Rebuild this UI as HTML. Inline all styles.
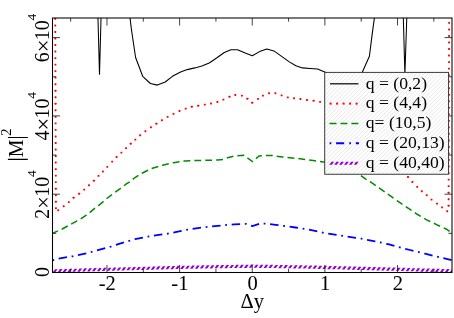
<!DOCTYPE html>
<html><head><meta charset="utf-8"><title>plot</title>
<style>
html,body{margin:0;padding:0;background:#fff;}
body{width:454px;height:318px;overflow:hidden;}
svg{display:block;will-change:transform;font-family:"Liberation Serif",serif;}
</style></head><body>
<svg width="454" height="318" viewBox="0 0 454 318">
<defs>
<clipPath id="lc"><rect x="324.7" y="72.4" width="123.85000000000002" height="101.85"/></clipPath>
<clipPath id="cp"><rect x="52.5" y="18.0" width="399.5" height="254.5"/></clipPath>
</defs>
<rect width="454" height="318" fill="#fff"/>
<g clip-path="url(#cp)" fill="none">
<path d="M47.90,272.40h2.6l2.2,-3.2h-2.6zM52.80,272.33h2.6l2.2,-3.2h-2.6zM57.70,272.21h2.6l2.2,-3.2h-2.6zM62.60,272.08h2.6l2.2,-3.2h-2.6zM67.50,271.96h2.6l2.2,-3.2h-2.6zM72.40,271.83h2.6l2.2,-3.2h-2.6zM77.30,271.71h2.6l2.2,-3.2h-2.6zM82.20,271.56h2.6l2.2,-3.2h-2.6zM87.10,271.42h2.6l2.2,-3.2h-2.6zM92.00,271.27h2.6l2.2,-3.2h-2.6zM96.90,271.13h2.6l2.2,-3.2h-2.6zM101.80,270.98h2.6l2.2,-3.2h-2.6zM106.70,270.85h2.6l2.2,-3.2h-2.6zM111.60,270.73h2.6l2.2,-3.2h-2.6zM116.50,270.60h2.6l2.2,-3.2h-2.6zM121.40,270.48h2.6l2.2,-3.2h-2.6zM126.30,270.36h2.6l2.2,-3.2h-2.6zM131.20,270.24h2.6l2.2,-3.2h-2.6zM136.10,270.10h2.6l2.2,-3.2h-2.6zM141.00,269.96h2.6l2.2,-3.2h-2.6zM145.90,269.83h2.6l2.2,-3.2h-2.6zM150.80,269.69h2.6l2.2,-3.2h-2.6zM155.70,269.55h2.6l2.2,-3.2h-2.6zM160.60,269.43h2.6l2.2,-3.2h-2.6zM165.50,269.30h2.6l2.2,-3.2h-2.6zM170.40,269.18h2.6l2.2,-3.2h-2.6zM175.30,269.06h2.6l2.2,-3.2h-2.6zM180.20,268.95h2.6l2.2,-3.2h-2.6zM185.10,268.85h2.6l2.2,-3.2h-2.6zM190.00,268.75h2.6l2.2,-3.2h-2.6zM194.90,268.65h2.6l2.2,-3.2h-2.6zM199.80,268.56h2.6l2.2,-3.2h-2.6zM204.70,268.47h2.6l2.2,-3.2h-2.6zM209.60,268.39h2.6l2.2,-3.2h-2.6zM214.50,268.31h2.6l2.2,-3.2h-2.6zM219.40,268.23h2.6l2.2,-3.2h-2.6zM224.30,268.15h2.6l2.2,-3.2h-2.6zM229.20,268.08h2.6l2.2,-3.2h-2.6zM234.10,268.01h2.6l2.2,-3.2h-2.6zM239.00,267.95h2.6l2.2,-3.2h-2.6zM243.90,267.88h2.6l2.2,-3.2h-2.6zM248.80,267.81h2.6l2.2,-3.2h-2.6zM253.70,267.85h2.6l2.2,-3.2h-2.6zM258.60,267.92h2.6l2.2,-3.2h-2.6zM263.50,267.98h2.6l2.2,-3.2h-2.6zM268.40,268.05h2.6l2.2,-3.2h-2.6zM273.30,268.12h2.6l2.2,-3.2h-2.6zM278.20,268.20h2.6l2.2,-3.2h-2.6zM283.10,268.28h2.6l2.2,-3.2h-2.6zM288.00,268.35h2.6l2.2,-3.2h-2.6zM292.90,268.43h2.6l2.2,-3.2h-2.6zM297.80,268.51h2.6l2.2,-3.2h-2.6zM302.70,268.61h2.6l2.2,-3.2h-2.6zM307.60,268.71h2.6l2.2,-3.2h-2.6zM312.50,268.81h2.6l2.2,-3.2h-2.6zM317.40,268.91h2.6l2.2,-3.2h-2.6zM322.30,269.00h2.6l2.2,-3.2h-2.6zM327.20,269.13h2.6l2.2,-3.2h-2.6zM332.10,269.25h2.6l2.2,-3.2h-2.6zM337.00,269.37h2.6l2.2,-3.2h-2.6zM341.90,269.50h2.6l2.2,-3.2h-2.6zM346.80,269.63h2.6l2.2,-3.2h-2.6zM351.70,269.77h2.6l2.2,-3.2h-2.6zM356.60,269.91h2.6l2.2,-3.2h-2.6zM361.50,270.04h2.6l2.2,-3.2h-2.6zM366.40,270.18h2.6l2.2,-3.2h-2.6zM371.30,270.31h2.6l2.2,-3.2h-2.6zM376.20,270.43h2.6l2.2,-3.2h-2.6zM381.10,270.55h2.6l2.2,-3.2h-2.6zM386.00,270.67h2.6l2.2,-3.2h-2.6zM390.90,270.80h2.6l2.2,-3.2h-2.6zM395.80,270.92h2.6l2.2,-3.2h-2.6zM400.70,271.07h2.6l2.2,-3.2h-2.6zM405.60,271.21h2.6l2.2,-3.2h-2.6zM410.50,271.36h2.6l2.2,-3.2h-2.6zM415.40,271.50h2.6l2.2,-3.2h-2.6zM420.30,271.65h2.6l2.2,-3.2h-2.6zM425.20,271.78h2.6l2.2,-3.2h-2.6zM430.10,271.90h2.6l2.2,-3.2h-2.6zM435.00,272.03h2.6l2.2,-3.2h-2.6zM439.90,272.15h2.6l2.2,-3.2h-2.6zM444.80,272.28h2.6l2.2,-3.2h-2.6zM449.70,272.40h2.6l2.2,-3.2h-2.6z" fill="#9400d3"/>
<polyline points="52.40,260.40 58.50,258.60 67.00,257.10 72.80,256.30 77.80,255.20 86.50,253.20 91.60,252.00 96.70,250.40 105.50,248.10 110.90,246.60 115.50,245.00 125.00,242.00 135.00,239.10 146.00,236.90 157.00,235.20 168.00,233.60 179.00,231.40 190.00,229.20 201.00,227.70 212.00,226.40 223.00,225.30 234.00,224.40 245.90,223.90 252.50,226.10 260.20,223.50 265.70,223.70 275.70,224.80 285.60,226.10 295.50,227.50 306.50,229.20 317.50,231.40 324.10,233.00 340.00,235.50 354.00,237.60 361.70,238.70 367.20,239.80 374.90,241.30 381.50,242.70 388.10,244.20 395.90,246.40 410.00,250.00 425.00,253.70 440.00,257.30 452.00,260.30" stroke="#0000ff" stroke-width="1.8" stroke-dasharray="1.8 4.68 8.5 4.66"/>
<polyline points="52.40,233.40 58.20,230.70 62.20,229.00 68.20,225.70 71.10,224.10 77.10,220.80 80.70,218.80 86.30,215.10 89.40,212.80 94.90,208.20 98.20,205.80 104.20,200.90 106.80,198.50 112.20,194.40 119.90,188.90 126.00,184.20 130.90,181.00 135.00,177.50 141.60,173.40 151.50,168.60 162.50,165.30 173.50,162.70 184.60,161.10 195.60,160.50 206.60,160.30 217.60,160.00 223.10,159.40 228.60,157.40 234.10,156.10 243.70,155.20 252.50,161.60 259.10,155.90 271.30,155.40 282.30,157.00 297.70,158.50 313.10,160.50 325.00,162.20 340.00,166.50 350.00,170.30 360.60,175.40 366.10,179.40 370.50,182.00 377.10,186.40 387.00,193.50 397.00,200.70 406.90,207.40 416.80,214.00 426.70,219.80 436.60,224.60 446.50,229.20 452.00,233.20" stroke="#008b00" stroke-width="1.5" stroke-dasharray="6.9 4" stroke-dashoffset="0.8"/>
<g fill="#ff0000"><rect x="57.25" y="209.35" width="1.9" height="1.9" rx="0.4"/><rect x="62.75" y="205.35" width="1.9" height="1.9" rx="0.4"/><rect x="67.85" y="201.15" width="1.9" height="1.9" rx="0.4"/><rect x="72.65" y="196.75" width="1.9" height="1.9" rx="0.4"/><rect x="78.15" y="192.75" width="1.9" height="1.9" rx="0.4"/><rect x="83.25" y="188.65" width="1.9" height="1.9" rx="0.4"/><rect x="88.05" y="184.25" width="1.9" height="1.9" rx="0.4"/><rect x="92.95" y="179.75" width="1.9" height="1.9" rx="0.4"/><rect x="97.55" y="174.95" width="1.9" height="1.9" rx="0.4"/><rect x="101.95" y="170.55" width="1.9" height="1.9" rx="0.4"/><rect x="106.35" y="165.95" width="1.9" height="1.9" rx="0.4"/><rect x="111.25" y="160.65" width="1.9" height="1.9" rx="0.4"/><rect x="115.65" y="156.05" width="1.9" height="1.9" rx="0.4"/><rect x="120.45" y="151.65" width="1.9" height="1.9" rx="0.4"/><rect x="125.05" y="147.15" width="1.9" height="1.9" rx="0.4"/><rect x="129.75" y="142.85" width="1.9" height="1.9" rx="0.4"/><rect x="134.35" y="138.65" width="1.9" height="1.9" rx="0.4"/><rect x="139.15" y="134.25" width="1.9" height="1.9" rx="0.4"/><rect x="144.45" y="130.35" width="1.9" height="1.9" rx="0.4"/><rect x="149.95" y="126.35" width="1.9" height="1.9" rx="0.4"/><rect x="155.45" y="122.85" width="1.9" height="1.9" rx="0.4"/><rect x="160.95" y="119.25" width="1.9" height="1.9" rx="0.4"/><rect x="166.65" y="115.95" width="1.9" height="1.9" rx="0.4"/><rect x="172.55" y="112.95" width="1.9" height="1.9" rx="0.4"/><rect x="178.55" y="110.05" width="1.9" height="1.9" rx="0.4"/><rect x="184.75" y="107.65" width="1.9" height="1.9" rx="0.4"/><rect x="190.85" y="105.85" width="1.9" height="1.9" rx="0.4"/><rect x="197.25" y="104.75" width="1.9" height="1.9" rx="0.4"/><rect x="203.85" y="103.65" width="1.9" height="1.9" rx="0.4"/><rect x="210.05" y="102.55" width="1.9" height="1.9" rx="0.4"/><rect x="216.45" y="101.05" width="1.9" height="1.9" rx="0.4"/><rect x="222.45" y="98.65" width="1.9" height="1.9" rx="0.4"/><rect x="228.55" y="95.75" width="1.9" height="1.9" rx="0.4"/><rect x="234.35" y="94.05" width="1.9" height="1.9" rx="0.4"/><rect x="240.95" y="94.65" width="1.9" height="1.9" rx="0.4"/><rect x="246.45" y="97.75" width="1.9" height="1.9" rx="0.4"/><rect x="251.25" y="101.75" width="1.9" height="1.9" rx="0.4"/><rect x="257.05" y="97.95" width="1.9" height="1.9" rx="0.4"/><rect x="261.95" y="94.65" width="1.9" height="1.9" rx="0.4"/><rect x="268.05" y="92.25" width="1.9" height="1.9" rx="0.4"/><rect x="274.45" y="92.25" width="1.9" height="1.9" rx="0.4"/><rect x="280.65" y="94.45" width="1.9" height="1.9" rx="0.4"/><rect x="286.85" y="96.45" width="1.9" height="1.9" rx="0.4"/><rect x="293.05" y="97.25" width="1.9" height="1.9" rx="0.4"/><rect x="299.45" y="98.05" width="1.9" height="1.9" rx="0.4"/><rect x="306.05" y="99.05" width="1.9" height="1.9" rx="0.4"/><rect x="312.65" y="99.85" width="1.9" height="1.9" rx="0.4"/><rect x="319.15" y="100.95" width="1.9" height="1.9" rx="0.4"/><rect x="407.05" y="176.05" width="1.9" height="1.9" rx="0.4"/><rect x="411.45" y="181.05" width="1.9" height="1.9" rx="0.4"/><rect x="416.25" y="185.95" width="1.9" height="1.9" rx="0.4"/><rect x="420.85" y="190.35" width="1.9" height="1.9" rx="0.4"/><rect x="425.75" y="194.25" width="1.9" height="1.9" rx="0.4"/><rect x="430.55" y="198.65" width="1.9" height="1.9" rx="0.4"/><rect x="436.05" y="202.65" width="1.9" height="1.9" rx="0.4"/><rect x="441.15" y="206.45" width="1.9" height="1.9" rx="0.4"/><rect x="446.25" y="210.35" width="1.9" height="1.9" rx="0.4"/><rect x="54.30" y="17.95" width="1.9" height="1.9" rx="0.4"/><rect x="54.32" y="24.48" width="1.9" height="1.9" rx="0.4"/><rect x="54.34" y="31.01" width="1.9" height="1.9" rx="0.4"/><rect x="54.37" y="37.54" width="1.9" height="1.9" rx="0.4"/><rect x="54.39" y="44.07" width="1.9" height="1.9" rx="0.4"/><rect x="54.41" y="50.60" width="1.9" height="1.9" rx="0.4"/><rect x="54.43" y="57.13" width="1.9" height="1.9" rx="0.4"/><rect x="54.46" y="63.66" width="1.9" height="1.9" rx="0.4"/><rect x="54.48" y="70.19" width="1.9" height="1.9" rx="0.4"/><rect x="54.50" y="76.72" width="1.9" height="1.9" rx="0.4"/><rect x="54.52" y="83.25" width="1.9" height="1.9" rx="0.4"/><rect x="54.55" y="89.78" width="1.9" height="1.9" rx="0.4"/><rect x="54.57" y="96.31" width="1.9" height="1.9" rx="0.4"/><rect x="54.59" y="102.84" width="1.9" height="1.9" rx="0.4"/><rect x="54.61" y="109.37" width="1.9" height="1.9" rx="0.4"/><rect x="54.64" y="115.90" width="1.9" height="1.9" rx="0.4"/><rect x="54.66" y="122.43" width="1.9" height="1.9" rx="0.4"/><rect x="54.68" y="128.96" width="1.9" height="1.9" rx="0.4"/><rect x="54.70" y="135.49" width="1.9" height="1.9" rx="0.4"/><rect x="54.73" y="142.02" width="1.9" height="1.9" rx="0.4"/><rect x="54.75" y="148.55" width="1.9" height="1.9" rx="0.4"/><rect x="54.77" y="155.08" width="1.9" height="1.9" rx="0.4"/><rect x="54.79" y="161.61" width="1.9" height="1.9" rx="0.4"/><rect x="54.82" y="168.14" width="1.9" height="1.9" rx="0.4"/><rect x="54.84" y="174.67" width="1.9" height="1.9" rx="0.4"/><rect x="54.86" y="181.20" width="1.9" height="1.9" rx="0.4"/><rect x="54.88" y="187.73" width="1.9" height="1.9" rx="0.4"/><rect x="54.91" y="194.26" width="1.9" height="1.9" rx="0.4"/><rect x="54.93" y="200.79" width="1.9" height="1.9" rx="0.4"/><rect x="54.95" y="207.32" width="1.9" height="1.9" rx="0.4"/><rect x="448.15" y="21.95" width="1.9" height="1.9" rx="0.4"/><rect x="448.13" y="28.48" width="1.9" height="1.9" rx="0.4"/><rect x="448.11" y="35.01" width="1.9" height="1.9" rx="0.4"/><rect x="448.10" y="41.54" width="1.9" height="1.9" rx="0.4"/><rect x="448.08" y="48.07" width="1.9" height="1.9" rx="0.4"/><rect x="448.06" y="54.60" width="1.9" height="1.9" rx="0.4"/><rect x="448.04" y="61.13" width="1.9" height="1.9" rx="0.4"/><rect x="448.03" y="67.66" width="1.9" height="1.9" rx="0.4"/><rect x="448.01" y="74.19" width="1.9" height="1.9" rx="0.4"/><rect x="447.99" y="80.72" width="1.9" height="1.9" rx="0.4"/><rect x="447.97" y="87.25" width="1.9" height="1.9" rx="0.4"/><rect x="447.96" y="93.78" width="1.9" height="1.9" rx="0.4"/><rect x="447.94" y="100.31" width="1.9" height="1.9" rx="0.4"/><rect x="447.92" y="106.84" width="1.9" height="1.9" rx="0.4"/><rect x="447.90" y="113.37" width="1.9" height="1.9" rx="0.4"/><rect x="447.89" y="119.90" width="1.9" height="1.9" rx="0.4"/><rect x="447.87" y="126.43" width="1.9" height="1.9" rx="0.4"/><rect x="447.85" y="132.96" width="1.9" height="1.9" rx="0.4"/><rect x="447.83" y="139.49" width="1.9" height="1.9" rx="0.4"/><rect x="447.81" y="146.02" width="1.9" height="1.9" rx="0.4"/><rect x="447.80" y="152.55" width="1.9" height="1.9" rx="0.4"/><rect x="447.78" y="159.08" width="1.9" height="1.9" rx="0.4"/><rect x="447.76" y="165.61" width="1.9" height="1.9" rx="0.4"/><rect x="447.74" y="172.14" width="1.9" height="1.9" rx="0.4"/><rect x="447.73" y="178.67" width="1.9" height="1.9" rx="0.4"/><rect x="447.71" y="185.20" width="1.9" height="1.9" rx="0.4"/><rect x="447.69" y="191.73" width="1.9" height="1.9" rx="0.4"/><rect x="447.67" y="198.26" width="1.9" height="1.9" rx="0.4"/><rect x="447.66" y="204.79" width="1.9" height="1.9" rx="0.4"/></g>
<polyline points="129.90,17.00 131.50,30.00 135.60,57.50 142.70,76.30 150.40,83.50 157.40,85.10 165.20,82.00 172.40,76.30 180.60,71.90 187.20,69.60 194.90,67.90 201.90,66.10 209.20,63.00 216.60,58.00 224.30,52.50 230.90,49.80 237.50,49.80 245.20,53.10 252.30,55.80 259.60,51.60 266.80,48.90 273.90,50.90 281.60,56.40 289.30,61.90 295.90,65.70 302.50,67.90 310.00,68.50 317.60,69.00 325.30,72.30 332.00,77.00 339.00,82.50 347.00,85.00 354.00,83.50 362.30,72.30 369.40,56.30 371.60,38.60 374.50,17.00" stroke="#000" stroke-width="1.08" stroke-linejoin="round"/>
<polyline points="97.95,17.00 99.50,74.80 101.05,17.00" stroke="#000" stroke-width="1.05"/>
<polyline points="403.30,17.00 404.90,74.80 406.80,17.00" stroke="#000" stroke-width="1.05"/>
</g>
<path d="M106.97,272.5v-7.5M106.97,18.0v7.5M179.61,272.5v-7.5M179.61,18.0v7.5M252.25,272.5v-7.5M252.25,18.0v7.5M324.89,272.5v-7.5M324.89,18.0v7.5M397.53,272.5v-7.5M397.53,18.0v7.5M70.65,272.5v-3.7M70.65,18.0v3.7M143.29,272.5v-3.7M143.29,18.0v3.7M215.93,272.5v-3.7M215.93,18.0v3.7M288.57,272.5v-3.7M288.57,18.0v3.7M361.21,272.5v-3.7M361.21,18.0v3.7M433.85,272.5v-3.7M433.85,18.0v3.7M52.5,194.20h7.5M452.0,194.20h-7.5M52.5,115.90h7.5M452.0,115.90h-7.5M52.5,37.60h7.5M452.0,37.60h-7.5M52.5,233.35h3.7M452.0,233.35h-3.7M52.5,155.05h3.7M452.0,155.05h-3.7M52.5,76.75h3.7M452.0,76.75h-3.7" stroke="#222" stroke-width="0.85" fill="none"/>
<rect x="52.5" y="18.0" width="399.5" height="254.5" fill="none" stroke="#000" stroke-width="1.05"/>
<rect x="324.7" y="72.4" width="123.85000000000002" height="101.85" fill="#fff"/>
<path d="M106.60,174.2L208.40,72.4M110.70,174.2L212.50,72.4M114.80,174.2L216.60,72.4M118.90,174.2L220.70,72.4M123.00,174.2L224.80,72.4M127.10,174.2L228.90,72.4M131.20,174.2L233.00,72.4M135.30,174.2L237.10,72.4M139.40,174.2L241.20,72.4M143.50,174.2L245.30,72.4M147.60,174.2L249.40,72.4M151.70,174.2L253.50,72.4M155.80,174.2L257.60,72.4M159.90,174.2L261.70,72.4M164.00,174.2L265.80,72.4M168.10,174.2L269.90,72.4M172.20,174.2L274.00,72.4M176.30,174.2L278.10,72.4M180.40,174.2L282.20,72.4M184.50,174.2L286.30,72.4M188.60,174.2L290.40,72.4M192.70,174.2L294.50,72.4M196.80,174.2L298.60,72.4M200.90,174.2L302.70,72.4M205.00,174.2L306.80,72.4M209.10,174.2L310.90,72.4M213.20,174.2L315.00,72.4M217.30,174.2L319.10,72.4M221.40,174.2L323.20,72.4M225.50,174.2L327.30,72.4M229.60,174.2L331.40,72.4M233.70,174.2L335.50,72.4M237.80,174.2L339.60,72.4M241.90,174.2L343.70,72.4M246.00,174.2L347.80,72.4M250.10,174.2L351.90,72.4M254.20,174.2L356.00,72.4M258.30,174.2L360.10,72.4M262.40,174.2L364.20,72.4M266.50,174.2L368.30,72.4M270.60,174.2L372.40,72.4M274.70,174.2L376.50,72.4M278.80,174.2L380.60,72.4M282.90,174.2L384.70,72.4M287.00,174.2L388.80,72.4M291.10,174.2L392.90,72.4M295.20,174.2L397.00,72.4M299.30,174.2L401.10,72.4M303.40,174.2L405.20,72.4M307.50,174.2L409.30,72.4M311.60,174.2L413.40,72.4M315.70,174.2L417.50,72.4M319.80,174.2L421.60,72.4M323.90,174.2L425.70,72.4M328.00,174.2L429.80,72.4M332.10,174.2L433.90,72.4M336.20,174.2L438.00,72.4M340.30,174.2L442.10,72.4M344.40,174.2L446.20,72.4M348.50,174.2L450.30,72.4M352.60,174.2L454.40,72.4M356.70,174.2L458.50,72.4M360.80,174.2L462.60,72.4M364.90,174.2L466.70,72.4M369.00,174.2L470.80,72.4M373.10,174.2L474.90,72.4M377.20,174.2L479.00,72.4M381.30,174.2L483.10,72.4M385.40,174.2L487.20,72.4M389.50,174.2L491.30,72.4M393.60,174.2L495.40,72.4M397.70,174.2L499.50,72.4M401.80,174.2L503.60,72.4M405.90,174.2L507.70,72.4M410.00,174.2L511.80,72.4M414.10,174.2L515.90,72.4M418.20,174.2L520.00,72.4M422.30,174.2L524.10,72.4M426.40,174.2L528.20,72.4M430.50,174.2L532.30,72.4M434.60,174.2L536.40,72.4M438.70,174.2L540.50,72.4M442.80,174.2L544.60,72.4M446.90,174.2L548.70,72.4M451.00,174.2L552.80,72.4M455.10,174.2L556.90,72.4M459.20,174.2L561.00,72.4M463.30,174.2L565.10,72.4M467.40,174.2L569.20,72.4M471.50,174.2L573.30,72.4" clip-path="url(#lc)" stroke="#d0d0d0" stroke-width="0.5" fill="none"/>
<rect x="324.7" y="72.4" width="123.85000000000002" height="101.85" fill="none" stroke="#3a3a3a" stroke-width="1.0"/>
<g fill="none">
<path d="M330,83.8H358.5" stroke="#000" stroke-width="1.2"/>
<g fill="#ff0000"><rect x="329.6" y="102.6" width="2" height="2"/><rect x="336.1" y="102.6" width="2" height="2"/><rect x="342.6" y="102.6" width="2" height="2"/><rect x="349.1" y="102.6" width="2" height="2"/><rect x="355.6" y="102.6" width="2" height="2"/></g>
<path d="M329.6,123.6H358.5" stroke="#008b00" stroke-width="1.5" stroke-dasharray="6.9 4"/>
<path d="M329.6,143.3H359" stroke="#0000ff" stroke-width="2" stroke-dasharray="1.7 4.8 8.1 5.1"/>
<path d="M329.30,164.85h2.6l2.2,-3.1h-2.6zM334.20,164.85h2.6l2.2,-3.1h-2.6zM339.10,164.85h2.6l2.2,-3.1h-2.6zM344.00,164.85h2.6l2.2,-3.1h-2.6zM348.90,164.85h2.6l2.2,-3.1h-2.6zM353.80,164.85h2.6l2.2,-3.1h-2.6z" fill="#9400d3"/>
</g>
<g fill="#000" stroke="#000" stroke-width="0.04" stroke-linejoin="round">
<g stroke-width="0"><text x="365.8" y="88.5" font-size="17.6">q = (0,2)</text><text x="365.8" y="108.3" font-size="17.6">q = (4,4)</text><text x="365.8" y="128.3" font-size="17.6">q= (10,5)</text><text x="365.8" y="148.0" font-size="17.6">q = (20,13)</text><text x="365.8" y="168.0" font-size="17.6">q = (40,40)</text></g>
<text x="107.3" y="290.2" text-anchor="middle" font-size="20.5">-2</text><text x="179.9" y="290.2" text-anchor="middle" font-size="20.5">-1</text><text x="252.6" y="290.2" text-anchor="middle" font-size="20.5">0</text><text x="325.2" y="290.2" text-anchor="middle" font-size="20.5">1</text><text x="397.8" y="290.2" text-anchor="middle" font-size="20.5">2</text>
<text x="252.25" y="307.8" text-anchor="middle" font-size="20.5">Δy</text>
<text transform="translate(49,272) rotate(-90)" text-anchor="middle" font-size="19.9" stroke-width="0">0</text>
<g transform="translate(49,194.20) rotate(-90)" font-size="19.9" stroke-width="0"><text x="-24.6" y="0">2</text><path d="M-12.5,-10L-4.1,-1.6M-12.5,-1.6L-4.1,-10" stroke="#000" stroke-width="1.15" fill="none"/><text x="-2.55" y="0">10</text><text x="17.2" y="-12.9" font-size="13.4">4</text></g>
<g transform="translate(49,115.90) rotate(-90)" font-size="19.9" stroke-width="0"><text x="-24.6" y="0">4</text><path d="M-12.5,-10L-4.1,-1.6M-12.5,-1.6L-4.1,-10" stroke="#000" stroke-width="1.15" fill="none"/><text x="-2.55" y="0">10</text><text x="17.2" y="-12.9" font-size="13.4">4</text></g>
<g transform="translate(49,37.60) rotate(-90)" font-size="19.9" stroke-width="0"><text x="-24.6" y="0">6</text><path d="M-12.5,-10L-4.1,-1.6M-12.5,-1.6L-4.1,-10" stroke="#000" stroke-width="1.15" fill="none"/><text x="-2.55" y="0">10</text><text x="17.2" y="-12.9" font-size="13.4">4</text></g>
<g transform="translate(22,144.5) rotate(-90)" font-size="19.9" stroke-width="0"><text x="-12.8" y="0.8">M</text><text x="8.7" y="-11.5" font-size="14.4">2</text><path d="M-14.9,-14.1V5.8M7,-14.1V5.8" stroke="#000" stroke-width="1.15" fill="none"/></g>
</g>
</svg>
</body></html>
